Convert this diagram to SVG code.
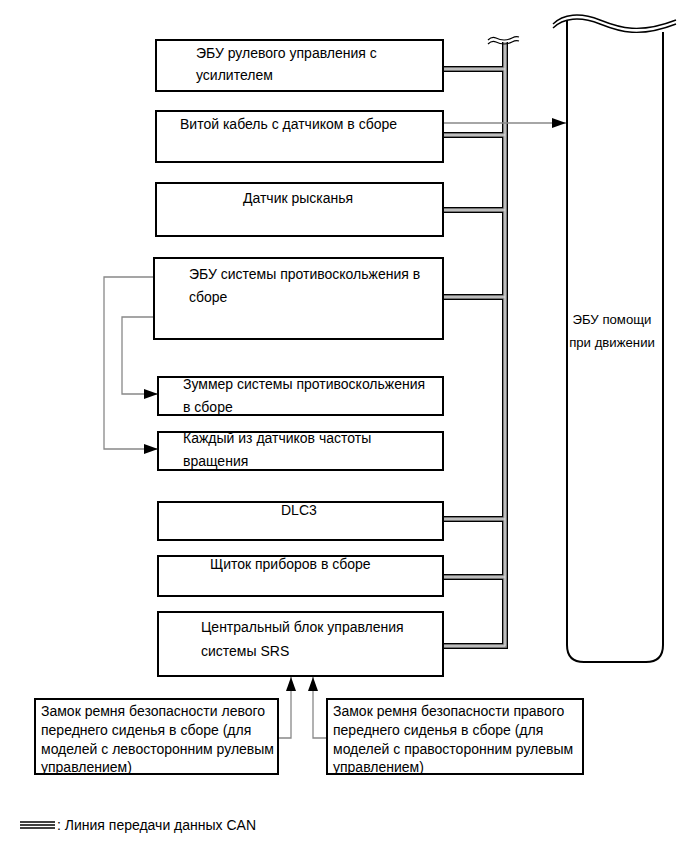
<svg xmlns="http://www.w3.org/2000/svg" width="691" height="855" viewBox="0 0 691 855">
<style>
.box{fill:#fff;stroke:#000;stroke-width:2}
.t{font-family:"Liberation Sans",Arial,sans-serif;font-size:14px;fill:#000}
.busO{fill:none;stroke:#000;stroke-width:6;stroke-linejoin:miter}
.busM{fill:none;stroke:#9a9a9a;stroke-width:3.6;stroke-linejoin:miter}
.busI{fill:none;stroke:#e0e0e0;stroke-width:1}
.con{fill:none;stroke:#888;stroke-width:1.3}
</style>
<defs>
<marker id="arr" viewBox="0 0 14 10" refX="14" refY="5" markerWidth="14" markerHeight="10" markerUnits="userSpaceOnUse" orient="auto">
<path d="M0,0 L14,5 L0,10 Z" fill="#000"/>
</marker>
</defs>
<rect width="691" height="855" fill="#fff"/>

<g id="connectors">
<path class="busO" d="M505,42 V646 H443 M443,69 H505 M443,135 H505 M443,210 H505 M443,297 H505 M443,519 H505 M443,577 H505"/>
<path class="busM" d="M505,42 V646 H443 M443,69 H505 M443,135 H505 M443,210 H505 M443,297 H505 M443,519 H505 M443,577 H505"/>
<path class="busI" d="M505,42 V646 H443 M443,69 H505 M443,135 H505 M443,210 H505 M443,297 H505 M443,519 H505 M443,577 H505"/>
<path d="M488,40 q4,-4 8,-2 t8,2 t8,-2 t7,-1" fill="none" stroke="#000" stroke-width="1.2"/>
<path d="M488,44 q4,-4 8,-2 t8,2 t8,-2 t7,-1" fill="none" stroke="#000" stroke-width="1.2"/>
<path class="con" d="M443,123 H566" marker-end="url(#arr)"/>
<path class="con" d="M155,277 H104 V449 H158" marker-end="url(#arr)"/>
<path class="con" d="M155,317 H122 V394 H158" marker-end="url(#arr)"/>
<path class="con" d="M278,738 H291 V677" marker-end="url(#arr)"/>
<path class="con" d="M327,738 H313 V677" marker-end="url(#arr)"/>
</g>

<g id="n1"><rect class="box" x="156" y="40" width="287" height="51"/>
<text class="t" x="196" y="58">ЭБУ рулевого управления с</text>
<text class="t" x="196" y="80">усилителем</text></g>

<g id="n2"><rect class="box" x="156" y="111" width="287" height="51"/>
<text class="t" x="180" y="129">Витой кабель с датчиком в сборе</text></g>

<g id="n3"><rect class="box" x="156" y="183" width="287" height="53"/>
<text class="t" x="243" y="203">Датчик рысканья</text></g>

<g id="n4"><rect class="box" x="154" y="258" width="289" height="81"/>
<text class="t" x="189" y="279">ЭБУ системы противоскольжения в</text>
<text class="t" x="189" y="302">сборе</text></g>

<g id="n5"><rect class="box" x="158" y="377" width="285" height="38"/>
<text class="t" x="183" y="389">Зуммер системы противоскольжения</text>
<text class="t" x="183" y="412">в сборе</text></g>

<g id="n6"><rect class="box" x="158" y="432" width="285" height="38"/>
<text class="t" x="183" y="443">Каждый из датчиков частоты</text>
<text class="t" x="183" y="466">вращения</text></g>

<g id="n7"><rect class="box" x="158" y="502" width="285" height="38"/>
<text class="t" x="281" y="515">DLC3</text></g>

<g id="n8"><rect class="box" x="158" y="556" width="285" height="40"/>
<text class="t" x="210" y="569">Щиток приборов в сборе</text></g>

<g id="n9"><rect class="box" x="158" y="612" width="285" height="64"/>
<text class="t" x="201" y="632">Центральный блок управления</text>
<text class="t" x="201" y="656">системы SRS</text></g>

<g id="n10"><rect class="box" x="35" y="699" width="243" height="75"/>
<text class="t" x="41" y="716">Замок ремня безопасности левого</text>
<text class="t" x="41" y="735">переднего сиденья в сборе (для</text>
<text class="t" x="41" y="754">моделей с левосторонним рулевым</text>
<text class="t" x="41" y="772">управлением)</text></g>

<g id="n11"><rect class="box" x="327" y="699" width="256" height="75"/>
<text class="t" x="333" y="716">Замок ремня безопасности правого</text>
<text class="t" x="333" y="735">переднего сиденья в сборе (для</text>
<text class="t" x="333" y="754">моделей с правосторонним рулевым</text>
<text class="t" x="333" y="772">управлением)</text></g>

<g id="n12">
<path d="M567,20 V645 Q567,662 584,662 H646 Q663,662 663,645 V32" fill="#fff" stroke="#000" stroke-width="2"/>
<path d="M553,24 C563,14 580,12 600,20 C620,28 640,34 676,20" fill="none" stroke="#000" stroke-width="1.4"/>
<path d="M553,28 C563,18 580,16 600,24 C620,32 640,38 676,24" fill="none" stroke="#000" stroke-width="1.4"/>
<text class="t" x="612" y="324" text-anchor="middle" style="font-size:13.2px">ЭБУ помощи</text>
<text class="t" x="612" y="347" text-anchor="middle" style="font-size:13.2px">при движении</text>
</g>

<g id="legend">
<path d="M20,822 H55 M20,825 H55 M20,828 H55" stroke="#000" stroke-width="1.3" fill="none"/>
<text class="t" x="57" y="830">: Линия передачи данных CAN</text>
</g>
</svg>
